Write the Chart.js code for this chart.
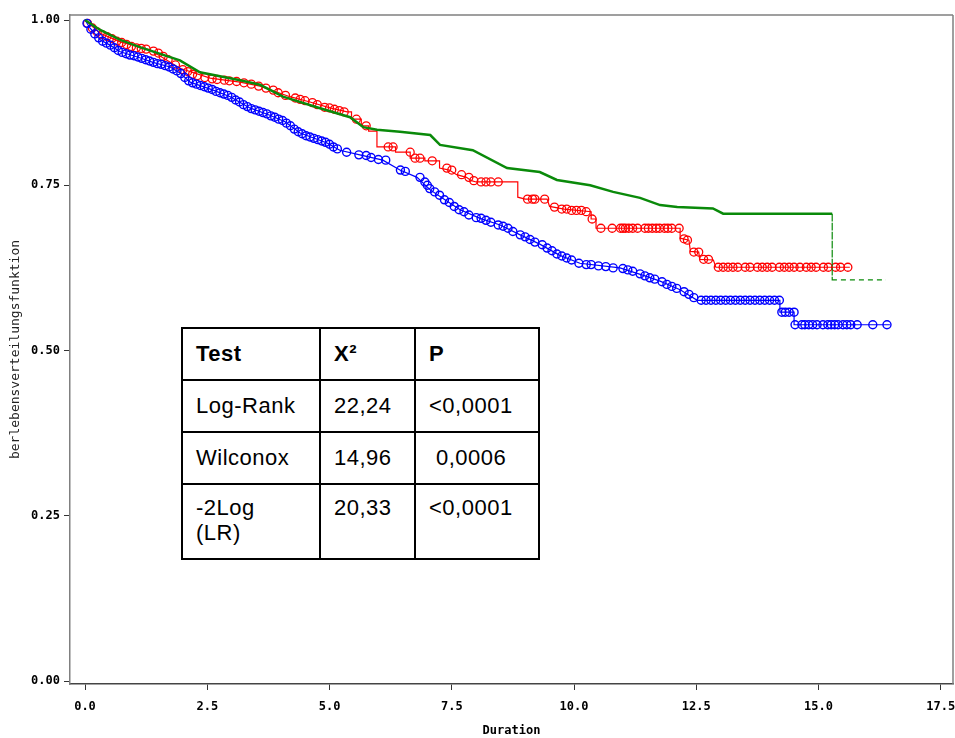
<!DOCTYPE html>
<html>
<head>
<meta charset="utf-8">
<script src="https://cdn.jsdelivr.net/npm/chart.js@4"></script>
<style>
  html, body { margin: 0; padding: 0; background: #fff; }
  #wrap { position: relative; width: 955px; height: 738px; }
  canvas { display: block; }
  #stats {
    position: absolute; left: 181px; top: 327px;
    border-collapse: collapse; background: #fff;
    font-family: "Liberation Sans", Arial, sans-serif; font-size: 22px; color: #000;
    letter-spacing: 0.5px;
  }
  #stats td { border: 2px solid #000; padding: 0 0 0 13px; vertical-align: middle; box-sizing: border-box; }
  #stats th { border: 2px solid #000; padding: 0 0 0 13px; text-align: left; vertical-align: middle; font-weight: bold; }
  #stats tr { height: 52px; }
  #stats tr.last { height: 75px; }
  #stats tr.last td { vertical-align: top; padding-top: 10px; line-height: 25px; }
</style>
</head>
<body>
<div id="wrap">
  <canvas id="c" width="955" height="738"></canvas>
  <table id="stats">
    <colgroup><col style="width:138px"><col style="width:95px"><col style="width:124px"></colgroup>
    <tr><th>Test</th><th>X²</th><th>P</th></tr>
    <tr><td>Log-Rank</td><td>22,24</td><td>&lt;0,0001</td></tr>
    <tr><td>Wilconox</td><td>14,96</td><td style="padding-left:20px">0,0006</td></tr>
    <tr class="last"><td>-2Log<br>(LR)</td><td>20,33</td><td>&lt;0,0001</td></tr>
  </table>
</div>
<script>
// ---- tick labels ----
const xTicks = [0, 2.5, 5, 7.5, 10, 12.5, 15, 17.5];
const yTicks = [0, 0.25, 0.5, 0.75, 1];

// ---- green group (survival curve vertices) ----
const greenT = [0, 0.31, 0.72, 1.12, 1.94, 2.35, 3.17, 3.58, 4.05, 4.74, 5.42, 5.69, 5.97, 6.44, 7.06, 7.26, 7.93, 8.63, 9.30, 9.65, 10.33, 10.80, 11.35, 11.76, 12.11, 12.84, 13.05, 15.28, 15.28, 16.38];
const greenS = [1.0, 0.985, 0.970, 0.959, 0.939, 0.921, 0.909, 0.902, 0.884, 0.868, 0.853, 0.838, 0.834, 0.831, 0.826, 0.811, 0.803, 0.776, 0.770, 0.758, 0.750, 0.740, 0.731, 0.720, 0.717, 0.715, 0.707, 0.707, 0.607, 0.607];

// ---- red group (survival curve vertices) ----
const redT = [0, 0.31, 0.72, 1.33, 1.94, 2.56, 3.17, 3.58, 4.19, 4.60, 5.01, 5.36, 5.45, 5.45, 5.65, 5.65, 5.80, 5.80, 5.97, 5.97, 6.35, 6.35, 6.65, 6.65, 6.95, 6.95, 7.25, 7.25, 7.45, 7.60, 7.80, 7.90, 8.00, 8.85, 8.85, 9.00, 9.45, 9.50, 9.80, 10.35, 10.35, 10.45, 10.45, 12.17, 12.17, 12.35, 12.38, 12.55, 12.57, 12.85, 12.90, 15.64];
const redS = [1.0, 0.980, 0.967, 0.955, 0.927, 0.912, 0.906, 0.900, 0.884, 0.876, 0.867, 0.861, 0.861, 0.850, 0.850, 0.840, 0.840, 0.832, 0.832, 0.808, 0.808, 0.800, 0.800, 0.791, 0.791, 0.787, 0.787, 0.776, 0.773, 0.766, 0.762, 0.757, 0.755, 0.755, 0.732, 0.729, 0.729, 0.718, 0.714, 0.710, 0.699, 0.699, 0.685, 0.685, 0.670, 0.667, 0.650, 0.649, 0.638, 0.637, 0.626, 0.626];

// ---- blue group (survival curve vertices) ----
const blueT = [0, 0.10, 0.31, 0.51, 0.72, 1.12, 1.39, 1.74, 1.94, 2.15, 2.62, 2.97, 3.37, 3.78, 4.09, 4.40, 4.95, 5.21, 5.62, 6.09, 6.44, 6.79, 7.06, 7.36, 7.67, 8.08, 8.49, 8.90, 9.30, 9.71, 10.12, 10.94, 11.45, 11.76, 12.17, 12.52, 14.21, 14.21, 14.50, 14.50, 16.46];
const blueS = [1.0, 0.988, 0.970, 0.962, 0.952, 0.943, 0.936, 0.929, 0.920, 0.906, 0.894, 0.884, 0.867, 0.856, 0.846, 0.829, 0.814, 0.803, 0.796, 0.788, 0.773, 0.762, 0.743, 0.728, 0.713, 0.700, 0.690, 0.675, 0.661, 0.644, 0.632, 0.625, 0.613, 0.605, 0.592, 0.576, 0.576, 0.558, 0.558, 0.539, 0.539];

// ---- censored observations (circles) ----
const redCensT = [0.05, 0.15, 0.25, 0.35, 0.45, 0.55, 0.65, 0.75, 0.85, 0.95, 1.05, 1.15, 1.25, 1.4, 1.5, 1.6, 1.7, 1.85, 2.0, 2.1, 2.2, 2.3, 2.45, 2.6, 2.7, 2.85, 2.95, 3.1, 3.25, 3.4, 3.55, 3.7, 3.85, 3.95, 4.1, 4.3, 4.4, 4.5, 4.65, 4.75, 4.9, 5.0, 5.1, 5.2, 5.3, 5.55, 5.75, 6.2, 6.3, 6.65, 6.75, 6.85, 7.1, 7.4, 7.5, 7.7, 7.85, 7.95, 8.1, 8.2, 8.3, 8.45, 9.05, 9.15, 9.2, 9.4, 9.6, 9.75, 9.85, 9.95, 10.05, 10.15, 10.25, 10.37, 10.55, 10.78, 10.95, 11.0, 11.05, 11.12, 11.2, 11.3, 11.45, 11.52, 11.6, 11.68, 11.75, 11.85, 11.92, 12.0, 12.15, 12.25, 12.32, 12.45, 12.55, 12.65, 12.75, 12.95, 13.05, 13.15, 13.25, 13.35, 13.5, 13.6, 13.75, 13.85, 13.95, 14.05, 14.2, 14.3, 14.4, 14.5, 14.62, 14.75, 14.85, 14.95, 15.1, 15.2, 15.35, 15.45, 15.6];
const redCensS = [0.995, 0.988, 0.982, 0.978, 0.975, 0.972, 0.968, 0.966, 0.963, 0.960, 0.958, 0.957, 0.956, 0.953, 0.950, 0.945, 0.940, 0.932, 0.925, 0.922, 0.918, 0.916, 0.913, 0.911, 0.910, 0.909, 0.908, 0.907, 0.905, 0.903, 0.900, 0.897, 0.894, 0.890, 0.886, 0.882, 0.880, 0.878, 0.875, 0.872, 0.868, 0.867, 0.865, 0.863, 0.861, 0.850, 0.840, 0.808, 0.808, 0.800, 0.791, 0.791, 0.787, 0.776, 0.773, 0.766, 0.762, 0.757, 0.755, 0.755, 0.755, 0.755, 0.729, 0.729, 0.729, 0.729, 0.717, 0.714, 0.714, 0.712, 0.712, 0.712, 0.710, 0.699, 0.685, 0.685, 0.685, 0.685, 0.685, 0.685, 0.685, 0.685, 0.685, 0.685, 0.685, 0.685, 0.685, 0.685, 0.685, 0.685, 0.685, 0.669, 0.667, 0.649, 0.649, 0.638, 0.638, 0.626, 0.626, 0.626, 0.626, 0.626, 0.626, 0.626, 0.626, 0.626, 0.626, 0.626, 0.626, 0.626, 0.626, 0.626, 0.626, 0.626, 0.626, 0.626, 0.626, 0.626, 0.626, 0.626, 0.626];

const blueCensT = [0.04, 0.12, 0.20, 0.28, 0.36, 0.44, 0.52, 0.60, 0.68, 0.76, 0.84, 0.92, 1.00, 1.08, 1.16, 1.24, 1.32, 1.40, 1.48, 1.56, 1.64, 1.72, 1.80, 1.88, 1.96, 2.04, 2.12, 2.20, 2.28, 2.36, 2.44, 2.52, 2.60, 2.68, 2.76, 2.84, 2.92, 3.00, 3.08, 3.16, 3.24, 3.32, 3.40, 3.48, 3.56, 3.64, 3.72, 3.80, 3.88, 3.96, 4.04, 4.12, 4.20, 4.28, 4.36, 4.44, 4.52, 4.60, 4.68, 4.76, 4.84, 4.92, 5.00, 5.08, 5.16, 5.35, 5.6, 5.75, 5.85, 6.0, 6.15, 6.45, 6.55, 6.85, 6.95, 7.0, 7.05, 7.15, 7.25, 7.35, 7.45, 7.55, 7.65, 7.75, 7.85, 8.0, 8.1, 8.2, 8.3, 8.45, 8.55, 8.65, 8.75, 8.9, 9.0, 9.1, 9.2, 9.35, 9.45, 9.55, 9.65, 9.75, 9.85, 9.95, 10.1, 10.25, 10.35, 10.5, 10.65, 10.8, 11.0, 11.1, 11.2, 11.35, 11.45, 11.55, 11.65, 11.8, 11.9, 12.0, 12.1, 12.25, 12.35, 12.45, 12.6, 12.7, 12.8, 12.9, 13.0, 13.1, 13.2, 13.3, 13.4, 13.5, 13.6, 13.7, 13.8, 13.9, 14.0, 14.1, 14.2, 14.25, 14.32, 14.4, 14.5, 14.52, 14.66, 14.72, 14.8, 14.88, 14.97, 15.09, 15.19, 15.26, 15.33, 15.4, 15.5, 15.58, 15.66, 15.79, 16.11, 16.4];
const blueCensS = [0.995, 0.986, 0.979, 0.973, 0.968, 0.965, 0.962, 0.958, 0.954, 0.951, 0.949, 0.947, 0.946, 0.944, 0.942, 0.940, 0.938, 0.936, 0.934, 0.933, 0.931, 0.929, 0.926, 0.923, 0.919, 0.913, 0.908, 0.905, 0.903, 0.901, 0.899, 0.897, 0.895, 0.892, 0.890, 0.888, 0.886, 0.883, 0.879, 0.876, 0.872, 0.869, 0.866, 0.864, 0.862, 0.860, 0.858, 0.855, 0.853, 0.850, 0.848, 0.844, 0.840, 0.835, 0.831, 0.828, 0.825, 0.823, 0.821, 0.819, 0.817, 0.815, 0.812, 0.808, 0.805, 0.800, 0.796, 0.795, 0.792, 0.789, 0.788, 0.773, 0.771, 0.762, 0.755, 0.750, 0.745, 0.740, 0.735, 0.728, 0.724, 0.718, 0.713, 0.710, 0.705, 0.701, 0.700, 0.697, 0.694, 0.690, 0.688, 0.685, 0.680, 0.675, 0.672, 0.668, 0.664, 0.660, 0.655, 0.651, 0.646, 0.643, 0.640, 0.637, 0.632, 0.630, 0.630, 0.628, 0.627, 0.625, 0.624, 0.622, 0.620, 0.616, 0.613, 0.610, 0.608, 0.604, 0.600, 0.597, 0.594, 0.589, 0.585, 0.580, 0.576, 0.576, 0.576, 0.576, 0.576, 0.576, 0.576, 0.576, 0.576, 0.576, 0.576, 0.576, 0.576, 0.576, 0.576, 0.576, 0.576, 0.558, 0.558, 0.558, 0.558, 0.539, 0.539, 0.539, 0.539, 0.539, 0.539, 0.539, 0.539, 0.539, 0.539, 0.539, 0.539, 0.539, 0.539, 0.539, 0.539, 0.539];

const pts = (t, s) => t.map((v, i) => ({ x: v, y: s[i] }));

const GREEN = '#0a8a0a', RED = '#ff0000', BLUE = '#0000ff';
const tickFont = { family: 'DejaVu Sans Mono', size: 12, weight: 'bold' };

const frame = {
  id: 'frame',
  afterDraw(chart) {
    const { ctx, chartArea: a } = chart;
    ctx.save();
    ctx.strokeStyle = '#808080';
    ctx.lineWidth = 1.5;
    ctx.beginPath();
    ctx.moveTo(a.left, a.top); ctx.lineTo(a.right, a.top);
    ctx.moveTo(a.right, a.top); ctx.lineTo(a.right, a.bottom);
    ctx.stroke();
    ctx.restore();
  }
};

new Chart(document.getElementById('c'), {
  type: 'line',
  data: {
    datasets: [
      {
        data: pts(greenT, greenS), borderColor: GREEN, borderWidth: 2.5,
        pointRadius: 0, fill: false, tension: 0,
        segment: { borderDash: c => c.p0.parsed.x >= 15.2 ? [5, 4] : undefined,
                   borderWidth: c => c.p0.parsed.x >= 15.2 ? 1.2 : 2.5 }
      },
      {
        data: pts(blueT, blueS), borderColor: BLUE, borderWidth: 1.2,
        pointRadius: 0, fill: false, tension: 0
      },
      {
        type: 'scatter', data: pts(blueCensT, blueCensS), showLine: false,
        borderColor: BLUE, backgroundColor: 'rgba(0,0,0,0)', pointRadius: 4, borderWidth: 1.4, pointStyle: 'circle'
      },
      {
        data: pts(redT, redS), borderColor: RED, borderWidth: 1.2,
        pointRadius: 0, fill: false, tension: 0
      },
      {
        type: 'scatter', data: pts(redCensT, redCensS), showLine: false,
        borderColor: RED, backgroundColor: 'rgba(0,0,0,0)', pointRadius: 4, borderWidth: 1.3, pointStyle: 'circle'
      }
    ]
  },
  options: {
    responsive: false,
    animation: false,
    events: [],
    layout: { autoPadding: false, padding: { left: 0, right: 2, top: 15, bottom: 0 } },
    plugins: { legend: { display: false }, tooltip: { enabled: false } },
    scales: {
      x: {
        type: 'linear', min: -0.307, max: 17.75,
        afterBuildTicks: s => { s.ticks = xTicks.map(v => ({ value: v })); },
        afterFit: s => { s.height = 54; s.paddingLeft = 0; s.paddingRight = 0; },
        ticks: { font: tickFont, color: '#000', padding: 10, maxRotation: 0, autoSkip: false,
                 callback: v => Number(v).toFixed(1) },
        grid: { drawOnChartArea: false, drawTicks: true, tickLength: 6, tickColor: '#333', tickWidth: 1 },
        border: { display: true, color: '#444', width: 1.5 },
        title: { display: true, text: 'Duration', font: tickFont, color: '#000', padding: { top: 0, bottom: 0 } }
      },
      y: {
        type: 'linear', min: -0.0045, max: 1.0076,
        afterBuildTicks: s => { s.ticks = yTicks.map(v => ({ value: v })); },
        afterFit: s => { s.width = 70; s.paddingTop = 0; s.paddingBottom = 0; },
        ticks: { font: tickFont, color: '#000', padding: 4, autoSkip: false,
                 callback: v => Number(v).toFixed(2) },
        grid: { drawOnChartArea: false, drawTicks: true, tickLength: 6, tickColor: '#333', tickWidth: 1 },
        border: { display: true, color: '#808080', width: 1.5 },
        title: { display: true, text: 'berlebensverteilungsfunktion',
                 font: { family: 'DejaVu Sans Mono', size: 13, weight: 'normal' }, color: '#222',
                 padding: { top: 8, bottom: 0 } }
      }
    }
  },
  plugins: [frame]
});
</script>
</body>
</html>
